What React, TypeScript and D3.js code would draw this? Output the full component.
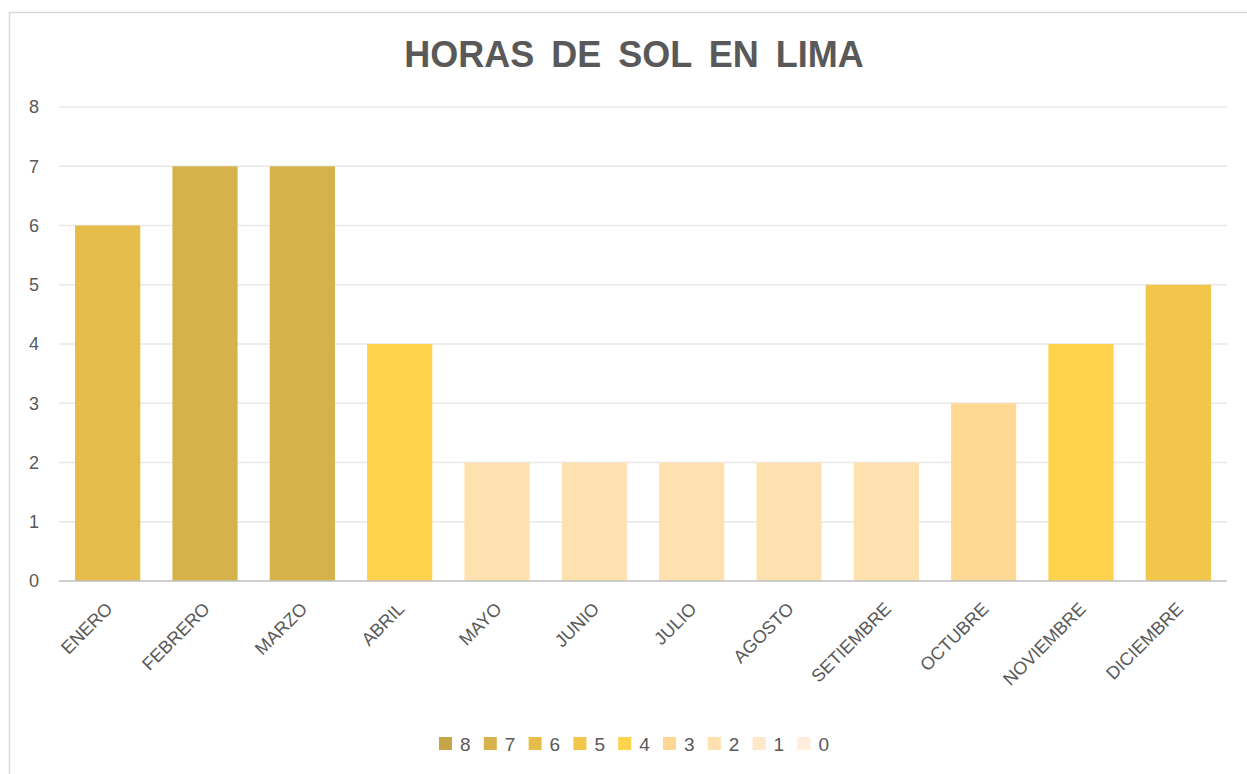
import * as d3 from "d3";
import { useEffect, useRef } from "react";

const months = ["ENERO", "FEBRERO", "MARZO", "ABRIL", "MAYO", "JUNIO", "JULIO", "AGOSTO", "SETIEMBRE", "OCTUBRE", "NOVIEMBRE", "DICIEMBRE"];
const hours = [6, 7, 7, 4, 2, 2, 2, 2, 2, 3, 4, 5];
const yTicks = [0, 1, 2, 3, 4, 5, 6, 7, 8];
const legendLevels = [8, 7, 6, 5, 4, 3, 2, 1, 0];
const levelColors = ["#FFEEDC", "#FFE7C9", "#FFE1AF", "#FFD994", "#FFD34E", "#F1C64A", "#E6BD4B", "#D5B24A", "#C5A546"];

export default function App() {
  const ref = useRef<SVGSVGElement>(null);

  useEffect(() => {
    const svg = d3.select(ref.current);
    svg.selectAll("*").remove();

    const W = 1247, H = 774;
    const m = { left: 59, right: 20, top: 107, bottom: 193 };
    const textColor = "#595959";
    const font = "'Liberation Sans', Arial, sans-serif";

    // chart frame
    svg.append("rect")
      .attr("x", 9.5).attr("y", 12.5)
      .attr("width", W).attr("height", H)
      .attr("fill", "#fff")
      .attr("stroke", "#d9d9d9")
      .attr("stroke-width", 1.5);

    const x = d3.scaleBand<string>()
      .domain(months)
      .range([m.left, W - m.right])
      .paddingInner(0.33)
      .paddingOuter(0.165);

    const y = d3.scaleLinear().domain([0, 8]).range([H - m.bottom, m.top]);
    const color = d3.scaleOrdinal<number, string>().domain(d3.range(0, 9)).range(levelColors);

    // gridlines
    svg.append("g")
      .selectAll("line")
      .data(yTicks.filter((d) => d > 0))
      .enter()
      .append("line")
      .attr("x1", m.left).attr("x2", W - m.right)
      .attr("y1", (d) => y(d)).attr("y2", (d) => y(d))
      .attr("stroke", "#e8e8e8")
      .attr("stroke-width", 1.5);

    // y labels
    svg.append("g")
      .selectAll("text")
      .data(yTicks)
      .enter()
      .append("text")
      .attr("x", 39)
      .attr("y", (d) => y(d))
      .attr("dy", "0.35em")
      .attr("text-anchor", "end")
      .attr("fill", textColor)
      .style("font-family", font)
      .style("font-size", "18px")
      .text((d) => d);

    // bars
    svg.append("g")
      .selectAll("rect")
      .data(hours)
      .enter()
      .append("rect")
      .attr("x", (d, i) => x(months[i])!)
      .attr("width", x.bandwidth())
      .attr("y", (d) => y(d))
      .attr("height", (d) => y(0) - y(d))
      .attr("fill", (d) => color(d));

    // axis line
    svg.append("line")
      .attr("x1", m.left).attr("x2", W - m.right)
      .attr("y1", y(0)).attr("y2", y(0))
      .attr("stroke", "#bfbfbf")
      .attr("stroke-width", 1.5);

    // x labels
    svg.append("g")
      .selectAll("text")
      .data(months)
      .enter()
      .append("text")
      .attr("transform", (d) => "translate(" + (x(d)! + x.bandwidth() / 2 + 6) + "," + (y(0) + 29) + ") rotate(-45)")
      .attr("text-anchor", "end")
      .attr("fill", textColor)
      .style("font-family", font)
      .style("font-size", "18px")
      .text((d) => d);

    // title
    svg.append("text")
      .attr("x", 634)
      .attr("y", 67)
      .attr("text-anchor", "middle")
      .attr("fill", textColor)
      .style("font-family", font)
      .style("font-weight", "bold")
      .style("font-size", "36px")
      .style("word-spacing", "7px")
      .text("HORAS DE SOL EN LIMA");

    // legend
    const step = 44.8;
    const lg = svg.append("g")
      .selectAll("g")
      .data(legendLevels)
      .enter()
      .append("g")
      .attr("transform", (d, i) => "translate(" + (439 + i * step) + ",737)");
    lg.append("rect")
      .attr("width", 13).attr("height", 13)
      .attr("fill", (d) => color(d));
    lg.append("text")
      .attr("x", 21)
      .attr("y", 13.5)
      .attr("fill", textColor)
      .style("font-family", font)
      .style("font-size", "19px")
      .text((d) => d);
  }, []);

  return (
    <svg ref={ref} width={1247} height={774}
      style={{ position: "absolute", left: 0, top: 0, background: "#fff" }} />
  );
}
